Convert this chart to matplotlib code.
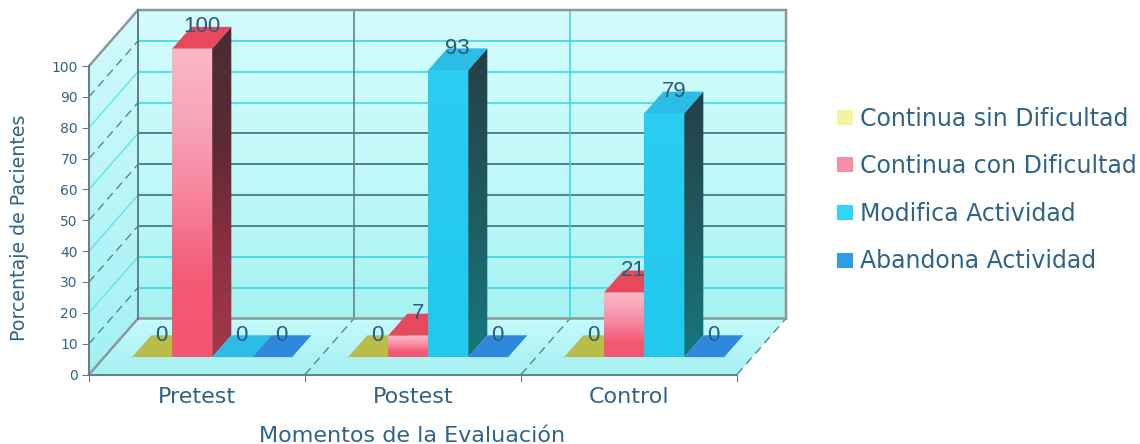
import numpy as np
import matplotlib
matplotlib.use("Agg")
import matplotlib.pyplot as plt
from matplotlib.colors import LinearSegmentedColormap as LSC
from matplotlib.patches import Polygon, Patch

categories = ["Pretest", "Postest", "Control"]
series_names = ["Continua sin Dificultad", "Continua con Dificultad", "Modifica Actividad", "Abandona Actividad"]
sin_dificultad = [0, 0, 0]
con_dificultad = [100, 7, 21]
modifica = [0, 93, 79]
abandona = [0, 0, 0]
series_values = [sin_dificultad, con_dificultad, modifica, abandona]
y_ticks = list(range(0, 101, 10))

W, H = 1140, 444
PX_X, PX_Y = 216.0, 3.085        # pixels per category / per percent
X0, Y0 = 89.0, 374.5             # pixel of the origin
DX, DY = 49 / PX_X, 56 / PX_Y    # full-depth shift in data units
TXT = "#2f6488"

fig = plt.figure(figsize=(W / 100, H / 100), dpi=100, facecolor="white")
ax = fig.add_axes([0, 0, 1, 1])
xlim = (-X0 / PX_X, (W - X0) / PX_X)
ylim = ((Y0 - H) / PX_Y, Y0 / PX_Y)
ax.patch.set_visible(False)


def P(x, y, d=0.0):
    """Oblique projection of (category position, value, depth)."""
    return (x + DX * d, y + DY * d)


def grad(poly, cols, z):
    """Fill polygon with a vertical gradient (cols listed from top to bottom)."""
    poly = np.array(poly)
    patch = Polygon(poly, closed=True, facecolor="none", edgecolor="none", zorder=z)
    ax.add_patch(patch)
    cm = LSC.from_list("g", cols)
    im = ax.imshow(np.linspace(0, 1, 256)[:, None], cmap=cm, aspect="auto", zorder=z,
                   extent=(poly[:, 0].min(), poly[:, 0].max(), poly[:, 1].min(), poly[:, 1].max()),
                   origin="upper", interpolation="bilinear")
    im.set_clip_path(patch)


def flat(poly, col, z):
    ax.add_patch(Polygon(poly, closed=True, facecolor=col, edgecolor="none", zorder=z))


# --- walls and floor
xmax = float(len(categories))
grad([P(0, 0), P(0, 100), P(0, 100, 1), P(0, 0, 1)], ["#d2fbfb", "#a4f0f3"], 1)
grad([P(0, 0, 1), P(0, 100, 1), P(xmax, 100, 1), P(xmax, 0, 1)], ["#d4fcfc", "#c2f9f9", "#a6f2f2"], 1)
grad([P(0, 0), P(0, 0, 1), P(xmax, 0, 1), P(xmax, 0)], ["#c6fbfb", "#a6f0f1"], 1)

# --- gridlines on the back wall and left wall
CY, DK = "#35d3e6", "#3f6f78"
for v in y_ticks[1:-1]:
    dark = 30 <= v <= 60
    a, b = P(0, v, 1), P(xmax, v, 1)
    ax.plot([a[0], b[0]], [a[1], b[1]], color=DK if dark else CY, lw=1.2 if dark else 1.1, zorder=2)
    c = P(0, v)
    if v % 20 == 0:
        ax.plot([c[0], a[0]], [c[1], a[1]], color="#5fe4ee", lw=1.0, zorder=2)
    else:
        ax.plot([c[0], a[0]], [c[1], a[1]], color="#4a8d98", lw=1.0, ls=(0, (6, 4)), zorder=2)
for i, col in zip([1, 2], ["#4f7f8a", "#35d3e6"]):
    a, b = P(i, 0, 1), P(i, 100, 1)
    ax.plot([a[0], b[0]], [a[1], b[1]], color=col, lw=1.1, zorder=2)
for i in [1, 2, 3]:
    a, b = P(i, 0), P(i, 0, 1)
    ax.plot([a[0], b[0]], [a[1], b[1]], color="#4a8d98", lw=1.0, ls=(0, (6, 4)), zorder=2)

# --- frame
G = "#8a9a9c"
for pts, lw, col in [
    ([P(0, 100), P(0, 100, 1), P(xmax, 100, 1), P(xmax, 0, 1)], 1.8, G),
    ([P(0, 0), P(0, 0, 1), P(xmax, 0, 1)], 1.8, G),
    ([P(0, 0, 1), P(0, 100, 1)], 1.4, "#5d8088"),
]:
    arr = np.array(pts)
    ax.plot(arr[:, 0], arr[:, 1], color=col, lw=lw, zorder=3, solid_joinstyle="miter")

# --- bars
BAR_W = 40 / PX_X
GROUP_START = 28 / PX_X
D0, D1 = 0.31, 0.70
front_cols = [["#d8d878", "#c8c850"],
              ["#f9b8c4", "#f8a4b6", "#f7809a", "#f45a76", "#f25570"],
              ["#2bcdf2", "#22c8ee"],
              ["#2f8be0", "#2f8be0"]]
side_cols = [["#909030", "#909030"],
             ["#4a2c34", "#5a2a34", "#8a2f40", "#a5384a"],
             ["#263f48", "#1f5a60", "#15787c"],
             ["#205a90", "#205a90"]]
top_cols = ["#b8bc48", "#e8485c", "#2cbce6", "#2e88dc"]

labels = []
for j, vals in enumerate(series_values):
    for i, v in enumerate(vals):
        x0 = i + GROUP_START + j * BAR_W
        x1 = x0 + BAR_W
        z = 4 + j
        if v > 0:
            grad([P(x0, 0, D0), P(x0, v, D0), P(x1, v, D0), P(x1, 0, D0)], front_cols[j], z)
            grad([P(x1, 0, D0), P(x1, v, D0), P(x1, v, D1), P(x1, 0, D1)], side_cols[j], z)
        flat([P(x0, v, D0), P(x1, v, D0), P(x1, v, D1), P(x0, v, D1)], top_cols[j], z)
        lx = P((x0 + x1) / 2, v, (D0 + D1) / 2)[0]
        ly = P(x0, v, D1)[1]
        labels.append((lx, ly, str(v)))
for lx, ly, s in labels:
    ax.text(lx, ly, s, ha="center", va="center", color="#2a5a7c", fontsize=16,
            family="Liberation Sans", zorder=20)

# --- axes, ticks, labels
ax.set_xlim(xlim)
ax.set_ylim(ylim)
for s in ["top", "right"]:
    ax.spines[s].set_visible(False)
ax.spines["left"].set_position(("data", 0))
ax.spines["bottom"].set_position(("data", 0))
ax.spines["left"].set_bounds(0, 100)
ax.spines["bottom"].set_bounds(0, xmax)
for s in ["left", "bottom"]:
    ax.spines[s].set_color("#5d8088")
    ax.spines[s].set_linewidth(1.4)
    ax.spines[s].set_zorder(3.5)
ax.set_yticks(y_ticks)
ax.set_xticks(range(len(categories) + 1))
ax.set_xticklabels([])
ax.set_xticks(np.arange(len(categories)) + 0.5, minor=True)
ax.set_xticklabels(categories, minor=True, color=TXT, fontsize=16, family="DejaVu Sans")
ax.tick_params(axis="x", which="minor", length=0, pad=9)
ax.tick_params(axis="x", which="major", length=5, color="#5d8088", direction="out")
ax.tick_params(axis="y", length=5, color="#5d8088", direction="out", pad=3,
               labelcolor=TXT, labelsize=10)
for t in ax.get_yticklabels():
    t.set_family("DejaVu Sans")

fig.text(412 / W, 1 - 436 / H, "Momentos de la Evaluación", ha="center", va="center",
         color=TXT, fontsize=16, family="DejaVu Sans")
fig.text(20 / W, 1 - 228 / H, "Porcentaje de Pacientes", ha="center", va="center", rotation=90,
         color=TXT, fontsize=13.7, family="DejaVu Sans")

# --- legend
handles = [Patch(facecolor=c, edgecolor="none") for c in ["#f4f4a0", "#f58ea6", "#2fd6f4", "#2f9ce8"]]
leg = ax.legend(handles, series_names, loc="center left", frameon=False,
                bbox_to_anchor=(837 / W, 1 - 190 / H), prop={"family": "DejaVu Sans", "size": 17},
                labelcolor="#2f6488", handlelength=0.68, handleheight=0.6, handletextpad=0.3,
                labelspacing=1.0, borderpad=0, borderaxespad=0)

fig.savefig("out.png", dpi=100, facecolor="white")
